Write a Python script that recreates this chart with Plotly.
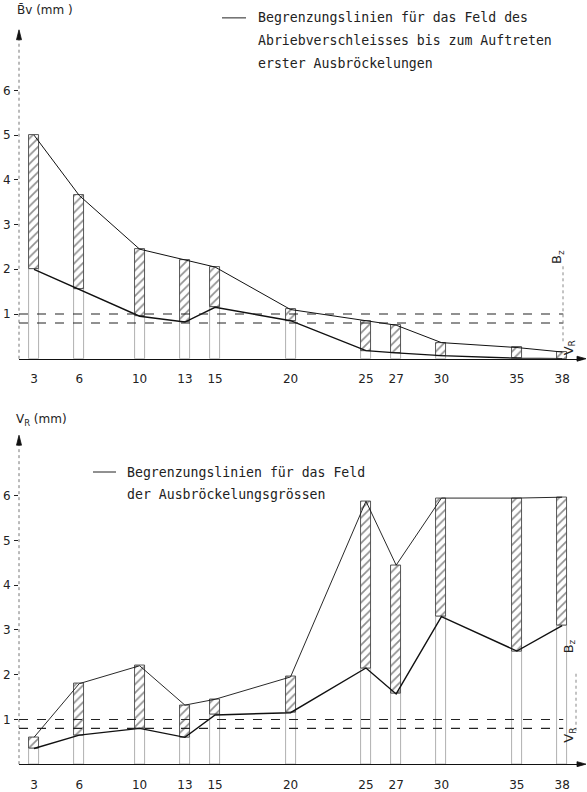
import plotly.graph_objects as go
import numpy as np

# ---------------- data ----------------
x_vals = [3, 6, 10, 13, 15, 20, 25, 27, 30, 35, 38]
x_labels = ["3", "6", "10", "13", "15", "20", "25", "27", "30", "35", "38"]

bv_upper = [5.0, 3.65, 2.45, 2.2, 2.05, 1.1, 0.84, 0.75, 0.36, 0.25, 0.15]
bv_lower = [2.0, 1.55, 0.95, 0.82, 1.15, 0.85, 0.18, 0.13, 0.07, 0.01, 0.0]

vr_upper = [0.6, 1.8, 2.2, 1.32, 1.45, 1.95, 5.88, 4.45, 5.95, 5.95, 5.97]
vr_lower = [0.35, 0.65, 0.8, 0.6, 1.1, 1.15, 2.15, 1.57, 3.3, 2.53, 3.1]

limit_bz = 1.0
limit_vr = 0.8

y_ticks = [1, 2, 3, 4, 5, 6]

legend_top = ["Begrenzungslinien für das Feld des",
              "Abriebverschleisses bis zum Auftreten",
              "erster Ausbröckelungen"]
legend_bot = ["Begrenzungslinien für das Feld",
              "der Ausbröckelungsgrössen"]

# ---------------- layout helpers ----------------
W, H = 587, 792
FONT = "DejaVu Sans"
LEG_FONT = "DejaVu Sans Mono"
bar_w = 0.66

def px(xp):
    return xp / W

def py(yp):
    return 1 - yp / H

fig = go.Figure()

def add_panel(upper, lower, xa, ya, up_w, lo_w):
    up = np.array(upper)
    lo = np.array(lower)
    # open lower rectangles (from 0 to lower limit)
    fig.add_trace(go.Bar(x=x_vals, y=lo, base=0, width=bar_w,
                         marker=dict(color="rgba(255,255,255,0)",
                                     line=dict(color="#9a9a9a", width=0.8)),
                         xaxis=xa, yaxis=ya, showlegend=False, hoverinfo="skip"))
    # hatched field
    fig.add_trace(go.Bar(x=x_vals, y=up - lo, base=lo, width=bar_w,
                         marker=dict(color="white",
                                     line=dict(color="#444", width=0.9),
                                     pattern=dict(shape="/", fgcolor="#222",
                                                  bgcolor="white", size=6,
                                                  solidity=0.28)),
                         xaxis=xa, yaxis=ya, showlegend=False, hoverinfo="skip"))
    fig.add_trace(go.Scatter(x=x_vals, y=upper, mode="lines",
                             line=dict(color="#111", width=up_w),
                             xaxis=xa, yaxis=ya, showlegend=False))
    fig.add_trace(go.Scatter(x=x_vals, y=lower, mode="lines",
                             line=dict(color="#111", width=lo_w),
                             xaxis=xa, yaxis=ya, showlegend=False))

add_panel(bv_upper, bv_lower, "x", "y", 1.0, 1.4)
add_panel(vr_upper, vr_lower, "x2", "y2", 0.9, 1.4)

x_dom = [px(19), px(583)]
x_rng = [3 - 15 / 15.09, 3 + 549 / 15.09]
y_rng = [0, 7.35]
top_dom = [py(361), py(361 - 7.35 * 45)]
bot_dom = [py(769), py(769 - 7.35 * 45)]

axis_font = dict(family=FONT, size=12, color="#222")

common_x = dict(range=x_rng, domain=x_dom, tickmode="array", tickvals=x_vals,
                ticktext=x_labels, showgrid=False, zeroline=False,
                showline=True, linecolor="#111", linewidth=1.2, ticks="",
                ticklabelstandoff=9, tickfont=axis_font)
common_y = dict(range=y_rng, tickmode="array", tickvals=y_ticks,
                showgrid=False, zeroline=False, showline=False, ticks="outside",
                ticklen=4, tickcolor="#222", tickwidth=1, tickfont=axis_font,
                ticklabelstandoff=1)

fig.update_layout(
    width=W, height=H, autosize=False,
    margin=dict(l=0, r=0, t=0, b=0),
    paper_bgcolor="white", plot_bgcolor="rgba(0,0,0,0)",
    barmode="overlay", bargap=0,
    xaxis=dict(common_x, anchor="y"),
    yaxis=dict(common_y, domain=top_dom, anchor="x"),
    xaxis2=dict(common_x, anchor="y2"),
    yaxis2=dict(common_y, domain=bot_dom, anchor="x2"),
    font=axis_font,
)

shapes = []
annotations = []

def tri_path(pts):
    return "M " + " L ".join(f"{px(a):.5f},{py(b):.5f}" for a, b in pts) + " Z"

for xa, ya, top_px, base_px in [("x", "y", 30, 361), ("x2", "y2", 438, 769)]:
    # dotted y axis line
    shapes.append(dict(type="line", xref=f"{xa} domain", yref=f"{ya} domain",
                       x0=0, x1=0, y0=0, y1=1, line=dict(color="#777", width=1, dash="dot")))
    # reference dashed lines
    for lim in (limit_bz, limit_vr):
        shapes.append(dict(type="line", xref=f"{xa} domain", yref=ya,
                           x0=0, x1=0.965, y0=lim, y1=lim,
                           line=dict(color="#222", width=1.1, dash="dash")))
    # arrowhead on the y axis
    shapes.append(dict(type="path", xref="paper", yref="paper",
                       path=tri_path([(19, top_px), (16.5, top_px + 10), (21.5, top_px + 10)]),
                       fillcolor="#111", line=dict(color="#111", width=0.8)))
    # arrowhead on the x axis
    shapes.append(dict(type="path", xref="paper", yref="paper",
                       path=tri_path([(586, base_px), (577, base_px - 2.5), (577, base_px + 2.5)]),
                       fillcolor="#111", line=dict(color="#111", width=0.8)))

# axis titles
annotations.append(dict(xref="paper", yref="paper", x=px(15), y=py(10), xanchor="left",
                        yanchor="middle", showarrow=False, text="B̄v (mm )",
                        font=dict(family=FONT, size=12, color="#222")))
annotations.append(dict(xref="paper", yref="paper", x=px(14), y=py(423), xanchor="left",
                        yanchor="middle", showarrow=False, text="V<sub>R</sub> (mm)",
                        font=dict(family=FONT, size=12, color="#222")))

# legends
def legend(lines, line_x0, line_x1, text_x, y0, step):
    shapes.append(dict(type="line", xref="paper", yref="paper",
                       x0=px(line_x0), x1=px(line_x1), y0=py(y0), y1=py(y0),
                       line=dict(color="#222", width=1)))
    for i, t in enumerate(lines):
        annotations.append(dict(xref="paper", yref="paper", x=px(text_x), y=py(y0 + i * step),
                                xanchor="left", yanchor="middle", showarrow=False, text=t,
                                font=dict(family=LEG_FONT, size=13.2, color="#222")))

legend(legend_top, 222, 246, 256, 18, 23)
legend(legend_bot, 93, 116, 125, 475, 23)

# right-side markers (B_z / V_R)
def side_labels(bz_x, bz_y, vr_x, vr_y, dot_x, dot_y0, dot_y1):
    annotations.append(dict(xref="paper", yref="paper", x=px(bz_x), y=py(bz_y),
                            showarrow=False, text="B<sub>z</sub>", textangle=-90,
                            font=dict(family=FONT, size=13, color="#222")))
    annotations.append(dict(xref="paper", yref="paper", x=px(vr_x), y=py(vr_y),
                            showarrow=False, text="V<sub>R</sub>", textangle=-90,
                            font=dict(family=FONT, size=13, color="#222")))
    shapes.append(dict(type="line", xref="paper", yref="paper",
                       x0=px(dot_x), x1=px(dot_x), y0=py(dot_y0), y1=py(dot_y1),
                       line=dict(color="#888", width=1, dash="dot")))

side_labels(568, 250, 580, 350, 563, 268, 345)
side_labels(580, 660, 580, 750, 576, 678, 738)

fig.update_layout(shapes=shapes, annotations=annotations)

fig.write_html("out.html")
